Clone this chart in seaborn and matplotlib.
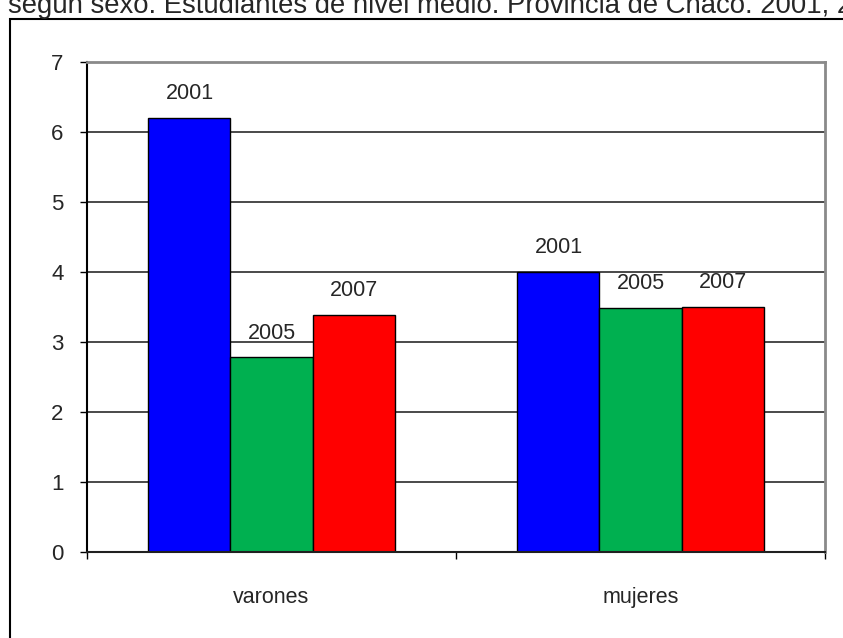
import pandas as pd
import matplotlib
matplotlib.use("Agg")
import matplotlib.pyplot as plt
import seaborn as sns
from matplotlib.patches import Rectangle

# Datos
sexos = ["varones", "mujeres"]
anios = ["2001", "2005", "2007"]
valores_varones = [6.2, 2.78, 3.39]
valores_mujeres = [4.0, 3.49, 3.5]
colores = ["#0000FF", "#00B050", "#FF0000"]
titulo = "según sexo. Estudiantes de nivel medio. Provincia de Chaco. 2001, 2005 y 2007"

# Tabla larga para seaborn
filas = []
for sexo, valores in zip(sexos, [valores_varones, valores_mujeres]):
    for anio, v in zip(anios, valores):
        filas.append({"sexo": sexo, "anio": anio, "valor": v})
data = pd.DataFrame(filas)

sns.set_style("white")
plt.rcParams["font.family"] = ["Liberation Sans", "DejaVu Sans"]

fig = plt.figure(figsize=(8.43, 6.38), dpi=100)
W, H = 843, 638
ax = fig.add_axes([87 / W, (H - 552) / H, (825 - 87) / W, (552 - 62) / H])

sns.barplot(data=data, x="sexo", y="valor", hue="anio", order=sexos,
            hue_order=anios, palette=colores, width=0.667,
            edgecolor="black", linewidth=1, saturation=1, ax=ax)
ax.get_legend().remove()

# Etiquetas sobre las barras
for cont, anio in zip(ax.containers, anios):
    ax.bar_label(cont, labels=[anio] * len(cont), padding=10, fontsize=15.5)

ax.set_xlim(-0.5, 1.5)
ax.set_ylim(0, 7)
ax.set_yticks(range(0, 8))
ax.set_xlabel("")
ax.set_ylabel("")

# Rejilla y bordes
ax.set_axisbelow(True)
ax.yaxis.grid(True, color="#3a3a3a", linewidth=1.3)
ax.spines["left"].set_color("black")
ax.spines["left"].set_linewidth(1.5)
ax.spines["bottom"].set_color("#202020")
ax.spines["bottom"].set_linewidth(1.5)
for s in ["top", "right"]:
    ax.spines[s].set_visible(True)
    ax.spines[s].set_color("#8a8a8a")
    ax.spines[s].set_linewidth(2)

ax.tick_params(axis="y", length=5, width=1, color="black", direction="out",
               left=True, pad=12, labelsize=16)
ax.set_xticks([-0.5, 0.5, 1.5], minor=True)
ax.tick_params(axis="x", which="major", length=0, pad=25, labelsize=15.5)
ax.tick_params(axis="x", which="minor", length=5, width=1, color="black",
               direction="out", bottom=True)

# Marco exterior y titulo recortado (como en la captura original)
fig.add_artist(Rectangle((9.5 / W, -0.1), 1.2, 1 - 19 / H + 0.1,
                         transform=fig.transFigure, fill=False,
                         edgecolor="black", linewidth=1.5))
fig.text(8 / W, 1 - 13 / H, titulo, fontsize=19.8, ha="left", va="baseline")

fig.savefig("out.png", dpi=100)
